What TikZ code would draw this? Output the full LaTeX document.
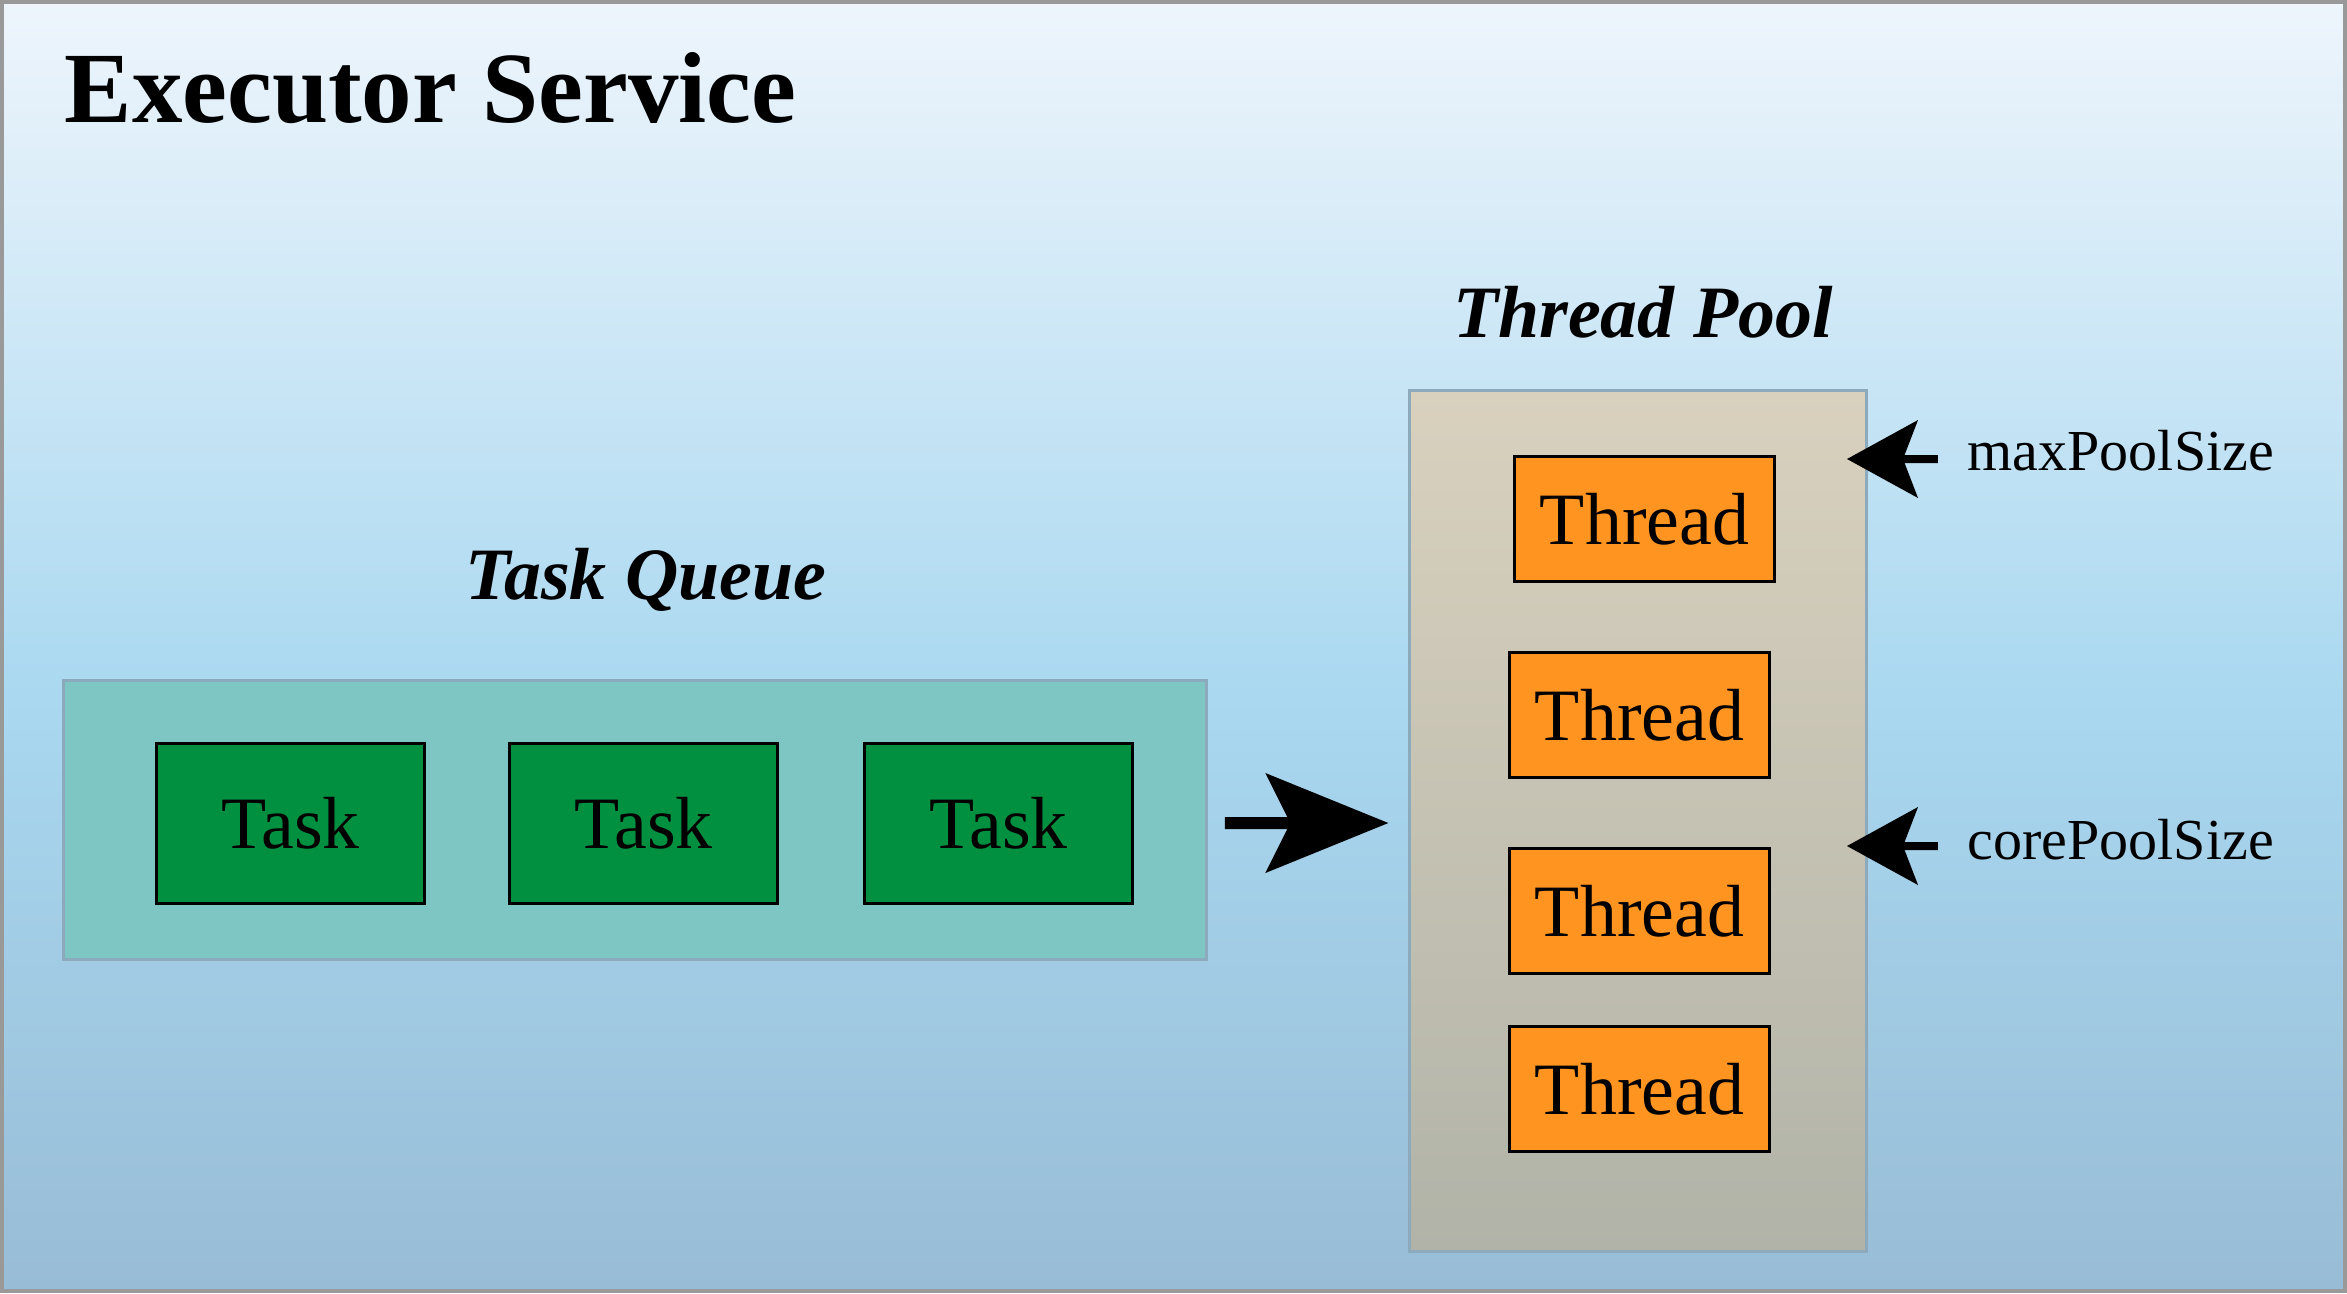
\documentclass[tikz,border=0pt]{standalone}
\usepackage{fontspec}
\setmainfont{Liberation Serif}
\usetikzlibrary{arrows.meta}

\definecolor{bgtop}{HTML}{EEF5FC}
\definecolor{bgmid}{HTML}{A9D8F0}
\definecolor{bgbot}{HTML}{98BCD6}
\definecolor{framegray}{HTML}{999999}
\definecolor{boxline}{HTML}{8CAABB}
\definecolor{queuefill}{HTML}{7EC6C4}
\definecolor{pooltop}{HTML}{D9D1BE}
\definecolor{poolbot}{HTML}{B1B3A8}
\definecolor{taskgreen}{HTML}{00903F}
\definecolor{threadorange}{HTML}{FF9421}

\pgfdeclareverticalshading{bgshade}{100bp}{color(0bp)=(bgbot); color(25bp)=(bgbot); color(48bp)=(bgmid); color(75bp)=(bgtop); color(100bp)=(bgtop)}

\tikzset{
	group/.style={draw=boxline, line width=0.03cm, inner sep=0pt},
	grouplabel/.style={font=\fontsize{21}{24}\selectfont\bfseries\itshape, inner sep=0pt, anchor=base},
	task/.style={draw=black, line width=0.03cm, fill=taskgreen, inner sep=0pt, minimum width=2.67cm, minimum height=1.59cm, font=\fontsize{21}{24}\selectfont},
	thread/.style={draw=black, line width=0.03cm, fill=threadorange, inner sep=0pt, minimum width=2.6cm, minimum height=1.25cm, font=\fontsize{21}{24}\selectfont},
	sizelabel/.style={font=\fontsize{16.5}{19}\selectfont, inner sep=0pt, anchor=base west},
	bigarrow/.style={-{Stealth[length=1.23cm, width=1cm, inset=0.25cm, line width=0pt]}, line width=0.12cm},
	sizearrow/.style={-{Stealth[length=0.71cm, width=0.78cm, inset=0.15cm, line width=0pt]}, line width=0.08cm}
}

\begin{document}
\begin{tikzpicture}[x=0.01cm, y=-0.01cm]
	\useasboundingbox (0,0) rectangle (2347,1293);
	\shadedraw[shading=bgshade, draw=framegray, line width=0.04cm] (2,2) rectangle (2345,1291);
	
	\node[font=\fontsize{28.7}{32}\selectfont\bfseries, anchor=base west, inner sep=0pt] (title) at (64,122) {Executor Service};
	
	\node[group, fill=queuefill, minimum width=11.42cm, minimum height=2.78cm] (queue) at (635,820) {};
	\node[grouplabel] (queuelabel) at (646,599) {Task Queue};
	\node[task] (task1) at (290.5,823.5) {Task};
	\node[task] (task2) at (643.5,823.5) {Task};
	\node[task] (task3) at (998.5,823.5) {Task};
	
	\node[group, top color=pooltop, bottom color=poolbot, minimum width=4.56cm, minimum height=8.61cm] (pool) at (1638,821) {};
	\node[grouplabel] (poollabel) at (1643,337) {Thread Pool};
	\node[thread] (thread1) at (1644.5,519) {Thread};
	\node[thread] (thread2) at (1639.5,715) {Thread};
	\node[thread] (thread3) at (1639.5,911) {Thread};
	\node[thread] (thread4) at (1639.5,1089) {Thread};
	
	\node[sizelabel] (maxlabel) at (1967,470) {maxPoolSize};
	\node[sizelabel] (corelabel) at (1967,859) {corePoolSize};
	\coordinate (maxtip) at (1847,459);
	\coordinate (coretip) at (1847,846);
	
	\path [bigarrow, shorten <=0.17cm, shorten >=0.2cm] ([yshift=-0.03cm]queue.east) edge ([yshift=-0.02cm]pool.west);
	\path [sizearrow, shorten <=0.29cm] ([yshift=0.11cm]maxlabel.base west) edge (maxtip);
	\path [sizearrow, shorten <=0.29cm] ([yshift=0.13cm]corelabel.base west) edge (coretip);
\end{tikzpicture}
\end{document}
